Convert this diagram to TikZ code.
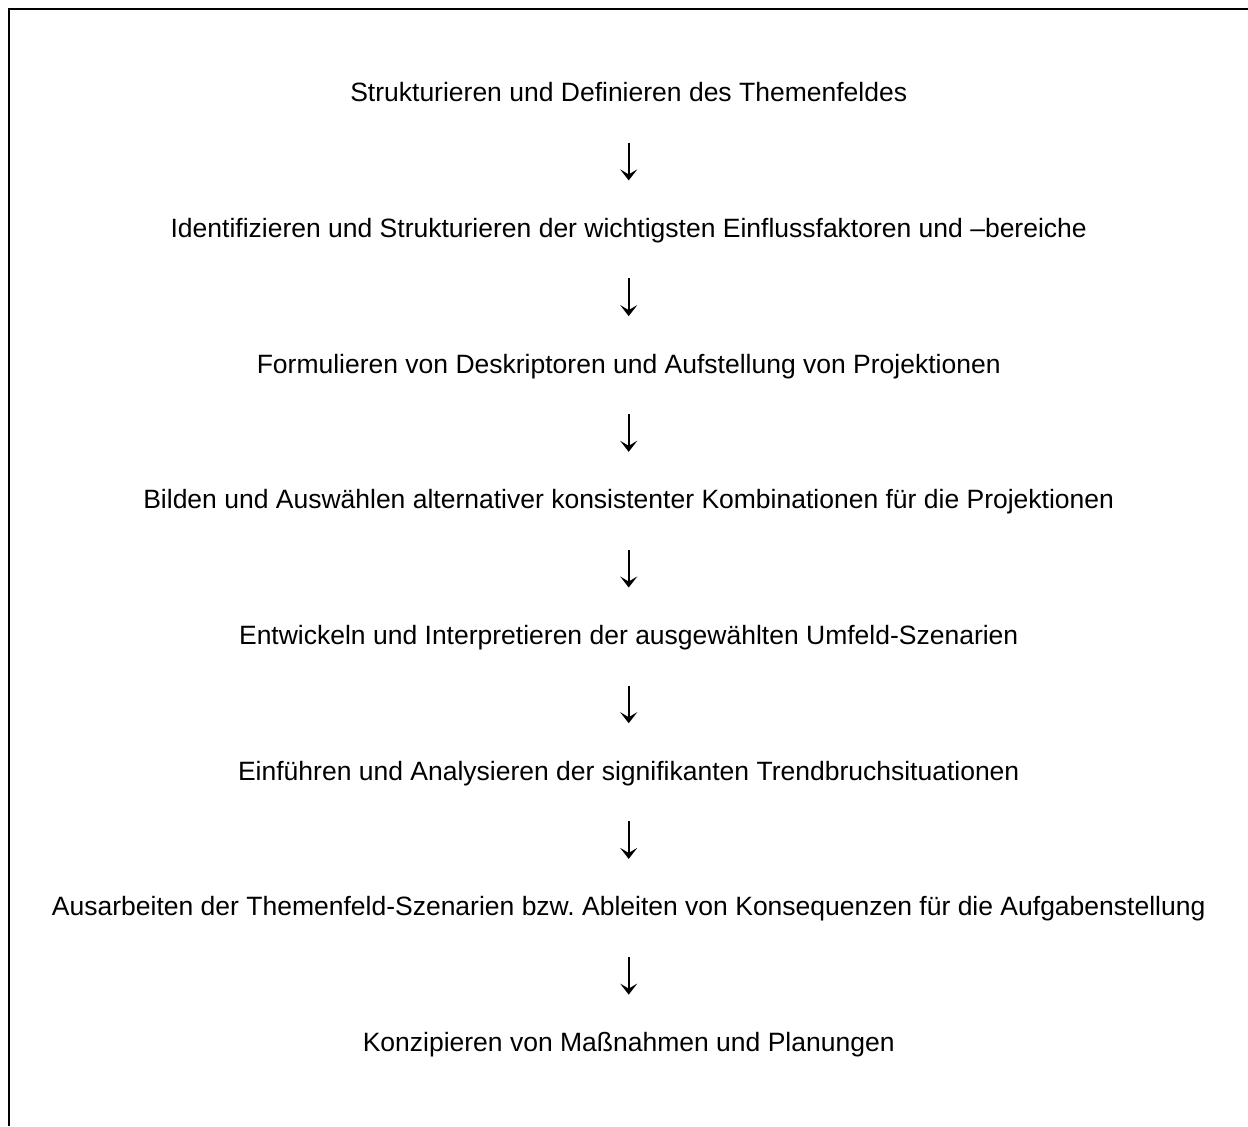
\documentclass[tikz,border=0pt]{standalone}
\usepackage{fontspec}
\setmainfont{Liberation Sans}
\usepackage{tikz}
\usetikzlibrary{arrows.meta}
\frenchspacing

\begin{document}
\begin{tikzpicture}[
    x=0.5pt, y=-0.5pt,
    phase/.style={inner sep=0pt, anchor=base, font=\fontsize{13.25}{15}\selectfont},
    flow/.style={-{Stealth[length=5.5pt, width=8.5pt, inset=2.5pt]}, line width=1pt, shorten <=20.5pt, shorten >=28.5pt},
    frame/.style={line width=1pt}
]
    \useasboundingbox (0,0) rectangle (1248,1126);

    % Frame (top and left edge only)
    \draw[frame] (1248,9) -- (9,9) -- (9,1126);

    % Phases
    \node[phase] (struktur) at (628.7,101.7) {Strukturieren und Definieren des Themenfeldes};
    \node[phase] (einfluss) at (628.7,237.4) {Identifizieren und Strukturieren der wichtigsten Einflussfaktoren und –bereiche};
    \node[phase] (deskript) at (628.7,373.1) {Formulieren von Deskriptoren und Aufstellung von Projektionen};
    \node[phase] (kombi) at (628.7,508.8) {Bilden und Auswählen alternativer konsistenter Kombinationen für die Projektionen};
    \node[phase] (umfeld) at (628.7,644.5) {Entwickeln und Interpretieren der ausgewählten Umfeld-Szenarien};
    \node[phase] (trend) at (628.7,780.2) {Einführen und Analysieren der signifikanten Trendbruchsituationen};
    \node[phase] (themen) at (628.7,915.9) {Ausarbeiten der Themenfeld-Szenarien bzw. Ableiten von Konsequenzen für die Aufgabenstellung};
    \node[phase] (massn) at (628.7,1051.6) {Konzipieren von Maßnahmen und Planungen};

    % Sequence
    \draw[flow] (struktur.base) -- (einfluss.base);
    \draw[flow] (einfluss.base) -- (deskript.base);
    \draw[flow] (deskript.base) -- (kombi.base);
    \draw[flow] (kombi.base) -- (umfeld.base);
    \draw[flow] (umfeld.base) -- (trend.base);
    \draw[flow] (trend.base) -- (themen.base);
    \draw[flow] (themen.base) -- (massn.base);
\end{tikzpicture}
\end{document}
